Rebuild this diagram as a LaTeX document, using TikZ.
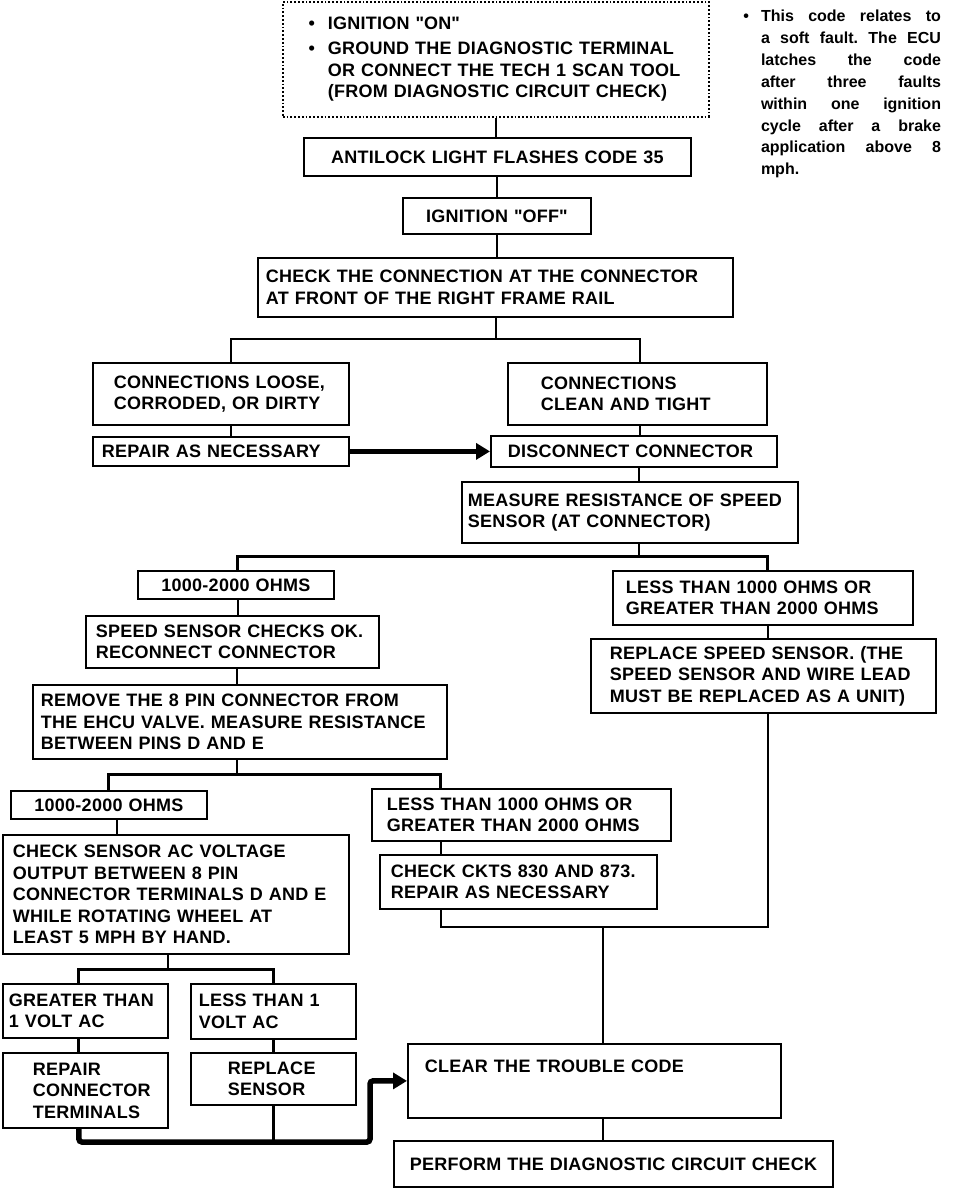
\documentclass[tikz,border=0pt]{standalone}
\usepackage{fontspec}
\setmainfont{Liberation Sans}[WordSpace=1.8,LetterSpace=1.5]
\newfontfamily\notefont{Liberation Sans}
\usetikzlibrary{arrows.meta}
\tikzset{lpad/.style={execute at begin node={\leftskip=#1}}}

\begin{document}
\begin{tikzpicture}[x=1pt,y=-1pt,line width=2pt]
            \tikzstyle{every node}=[font=\fontsize{18}{21.5}\selectfont\bfseries]
            \tikzstyle{box}=[draw,line width=1.8pt,anchor=north west,align=left,inner xsep=4pt,inner ysep=2pt]
            \tikzstyle{cbox}=[box,align=center]
            \tikzstyle{bus}=[line width=3pt]
            \tikzstyle{thinline}=[line width=1.2pt]
            \tikzstyle{bigarrow}=[line width=5.5pt,-{Triangle[length=14pt,width=16pt]}]

            \useasboundingbox (0,0) rectangle (960,1188);

            \node[box,dotted,line width=1.6pt,lpad=41pt,text width=418pt,minimum height=115pt] (top) at (282,1)
                {\leavevmode\llap{\textbullet\hspace{13pt}}IGNITION \textquotedbl ON\textquotedbl\\[4pt]
                 \leavevmode\llap{\textbullet\hspace{13pt}}GROUND THE DIAGNOSTIC TERMINAL\\
                 OR CONNECT THE TECH 1 SCAN TOOL\\
                 (FROM DIAGNOSTIC CIRCUIT CHECK)};
            \node[cbox,text width=379pt,minimum height=38pt] (flash) at (303,137) {ANTILOCK LIGHT FLASHES CODE 35};
            \node[cbox,text width=180pt,minimum height=36pt] (off) at (402,197) {IGNITION \textquotedbl OFF\textquotedbl};
            \node[box,lpad=4pt,text width=467pt,minimum height=59pt] (check) at (257,257)
                {CHECK THE CONNECTION AT THE CONNECTOR\\AT FRONT OF THE RIGHT FRAME RAIL};
            \node[box,lpad=17pt,text width=248pt,minimum height=62pt] (loose) at (92,362) {CONNECTIONS LOOSE,\\CORRODED, OR DIRTY};
            \node[box,lpad=29pt,text width=251pt,minimum height=62pt] (clean) at (507,362) {CONNECTIONS\\CLEAN AND TIGHT};
            \node[box,lpad=5pt,text width=248pt,minimum height=29pt] (repair) at (92,436) {REPAIR AS NECESSARY};
            \node[box,lpad=13pt,text width=278pt,minimum height=31pt] (disc) at (490,435) {DISCONNECT CONNECTOR};
            \node[box,lpad=2pt,text width=328pt,minimum height=61pt] (meas) at (461,481) {MEASURE RESISTANCE OF SPEED\\SENSOR (AT CONNECTOR)};
            \node[cbox,text width=188pt,minimum height=28pt] (ohmsa) at (137,570) {1000-2000 OHMS};
            \node[box,lpad=9pt,text width=292pt,minimum height=54pt] (lessa) at (612,570) {LESS THAN 1000 OHMS OR\\GREATER THAN 2000 OHMS};
            \node[box,lpad=6pt,text width=285pt,minimum height=52pt] (sensok) at (85,615) {SPEED SENSOR CHECKS OK.\\RECONNECT CONNECTOR};
            \node[box,lpad=15pt,text width=337pt,minimum height=74pt] (replss) at (590,638)
                {REPLACE SPEED SENSOR. (THE\\SPEED SENSOR AND WIRE LEAD\\MUST BE REPLACED AS A UNIT)};
            \node[box,lpad=4pt,text width=406pt,minimum height=74pt] (remove) at (32,684)
                {REMOVE THE 8 PIN CONNECTOR FROM\\THE EHCU VALVE. MEASURE RESISTANCE\\BETWEEN PINS D AND E};
            \node[cbox,text width=188pt,minimum height=28pt] (ohmsb) at (10,790) {1000-2000 OHMS};
            \node[box,lpad=11pt,text width=291pt,minimum height=52pt] (lessb) at (371,788) {LESS THAN 1000 OHMS OR\\GREATER THAN 2000 OHMS};
            \node[box,lpad=7pt,text width=269pt,minimum height=54pt] (ckts) at (379,854) {CHECK CKTS 830 AND 873.\\REPAIR AS NECESSARY};
            \node[box,lpad=6pt,text width=338pt,minimum height=119pt] (acv) at (2,834)
                {CHECK SENSOR AC VOLTAGE\\OUTPUT BETWEEN 8 PIN\\CONNECTOR TERMINALS D AND E\\WHILE ROTATING WHEEL AT\\LEAST 5 MPH BY HAND.};
            \node[box,lpad=2pt,text width=157pt,minimum height=54pt] (gtone) at (2,983) {GREATER THAN\\1 VOLT AC};
            \node[box,lpad=4pt,text width=157pt,minimum height=55pt] (ltone) at (190,983) {LESS THAN 1\\VOLT AC};
            \node[box,lpad=26pt,text width=157pt,minimum height=75pt] (repterm) at (2,1052) {REPAIR\\CONNECTOR\\TERMINALS};
            \node[box,lpad=33pt,text width=157pt,minimum height=52pt] (replsens) at (190,1052) {REPLACE\\SENSOR};
            \node[box,lpad=13pt,text width=365pt,minimum height=74pt,text depth=30pt] (clear) at (407,1043) {CLEAR THE TROUBLE CODE};
            \node[cbox,text width=431pt,minimum height=46pt] (perform) at (393,1140) {PERFORM THE DIAGNOSTIC CIRCUIT CHECK};

            \node[anchor=north west,inner sep=0pt,text width=180pt,align=justify,font=\notefont\fontsize{16}{21.9}\selectfont\bfseries\frenchspacing] (note) at (760,9)
                {\llap{\textbullet\hspace{12pt}}This code relates to\linebreak a soft fault. The ECU\linebreak latches the code\linebreak after three faults\linebreak within one ignition\linebreak cycle after a brake\linebreak application above 8\linebreak mph.};

            \coordinate (ja) at (496,339);
            \coordinate (jb) at (639,556);
            \coordinate (jc) at (237,774);
            \coordinate (jd) at (603,927);
            \coordinate (je) at (168,969);
            \coordinate (jf) at (370,1142);

            \draw (top.south) -- (top.south |- flash.north);
            \draw (flash.south) -- (flash.south |- off.north);
            \draw (off.south) -- (off.south |- check.north);
            \draw (check.south -| ja) -- (ja);
            \draw ([xshift=10pt]loose.north) |- (ja) -| ([xshift=2.5pt]clean.north);
            \draw ([xshift=10pt]loose.south) -- ([xshift=10pt]repair.north);
            \draw[bigarrow] (repair.east) -- (repair.east -| disc.west);
            \draw ([xshift=2.5pt]clean.south) -- ([xshift=2.5pt]clean.south |- disc.north);
            \draw (disc.south -| jb) -- (meas.north -| jb);
            \draw (meas.south -| jb) -- (jb);
            \draw[bus] ([xshift=2pt]ohmsa.north) |- (jb) -| ([xshift=5pt]lessa.north);
            \draw ([xshift=2pt]ohmsa.south) -- ([xshift=2pt]ohmsa.south |- sensok.north);
            \draw ([xshift=5pt]lessa.south) -- ([xshift=5pt]lessa.south |- replss.north);
            \draw (sensok.south -| jc) -- (remove.north -| jc);
            \draw (remove.south -| jc) -- (jc);
            \draw[bus] (ohmsb.north) |- (jc) -| ([xshift=-80.5pt]lessb.north);
            \draw[thinline] ([xshift=8pt]ohmsb.south) -- ([xshift=8pt]ohmsb.south |- acv.north);
            \draw ([xshift=-80.5pt]lessb.south) -- ([xshift=-80.5pt]lessb.south |- ckts.north);
            \draw ([xshift=-77.5pt]ckts.south) |- (jd) -| ([xshift=4.5pt]replss.south);
            \draw[thinline] (jd) -- (jd |- clear.north);
            \draw[thinline] (clear.south -| jd) -- (perform.north -| jd);
            \draw (acv.south -| je) -- (je);
            \draw[bus] ([xshift=-6.5pt]gtone.north) |- (je) -| (ltone.north);
            \draw[bus] ([xshift=-6.5pt]gtone.south) -- ([xshift=-6.5pt]gtone.south |- repterm.north);
            \draw[bus] (ltone.south) -- (ltone.south |- replsens.north);
            \draw[bus] (replsens.south) -- (replsens.south |- jf);
            \draw[bigarrow,rounded corners=3pt] ([xshift=-6.5pt]repterm.south) |- (jf) |- (clear.west);
\end{tikzpicture}
\end{document}
